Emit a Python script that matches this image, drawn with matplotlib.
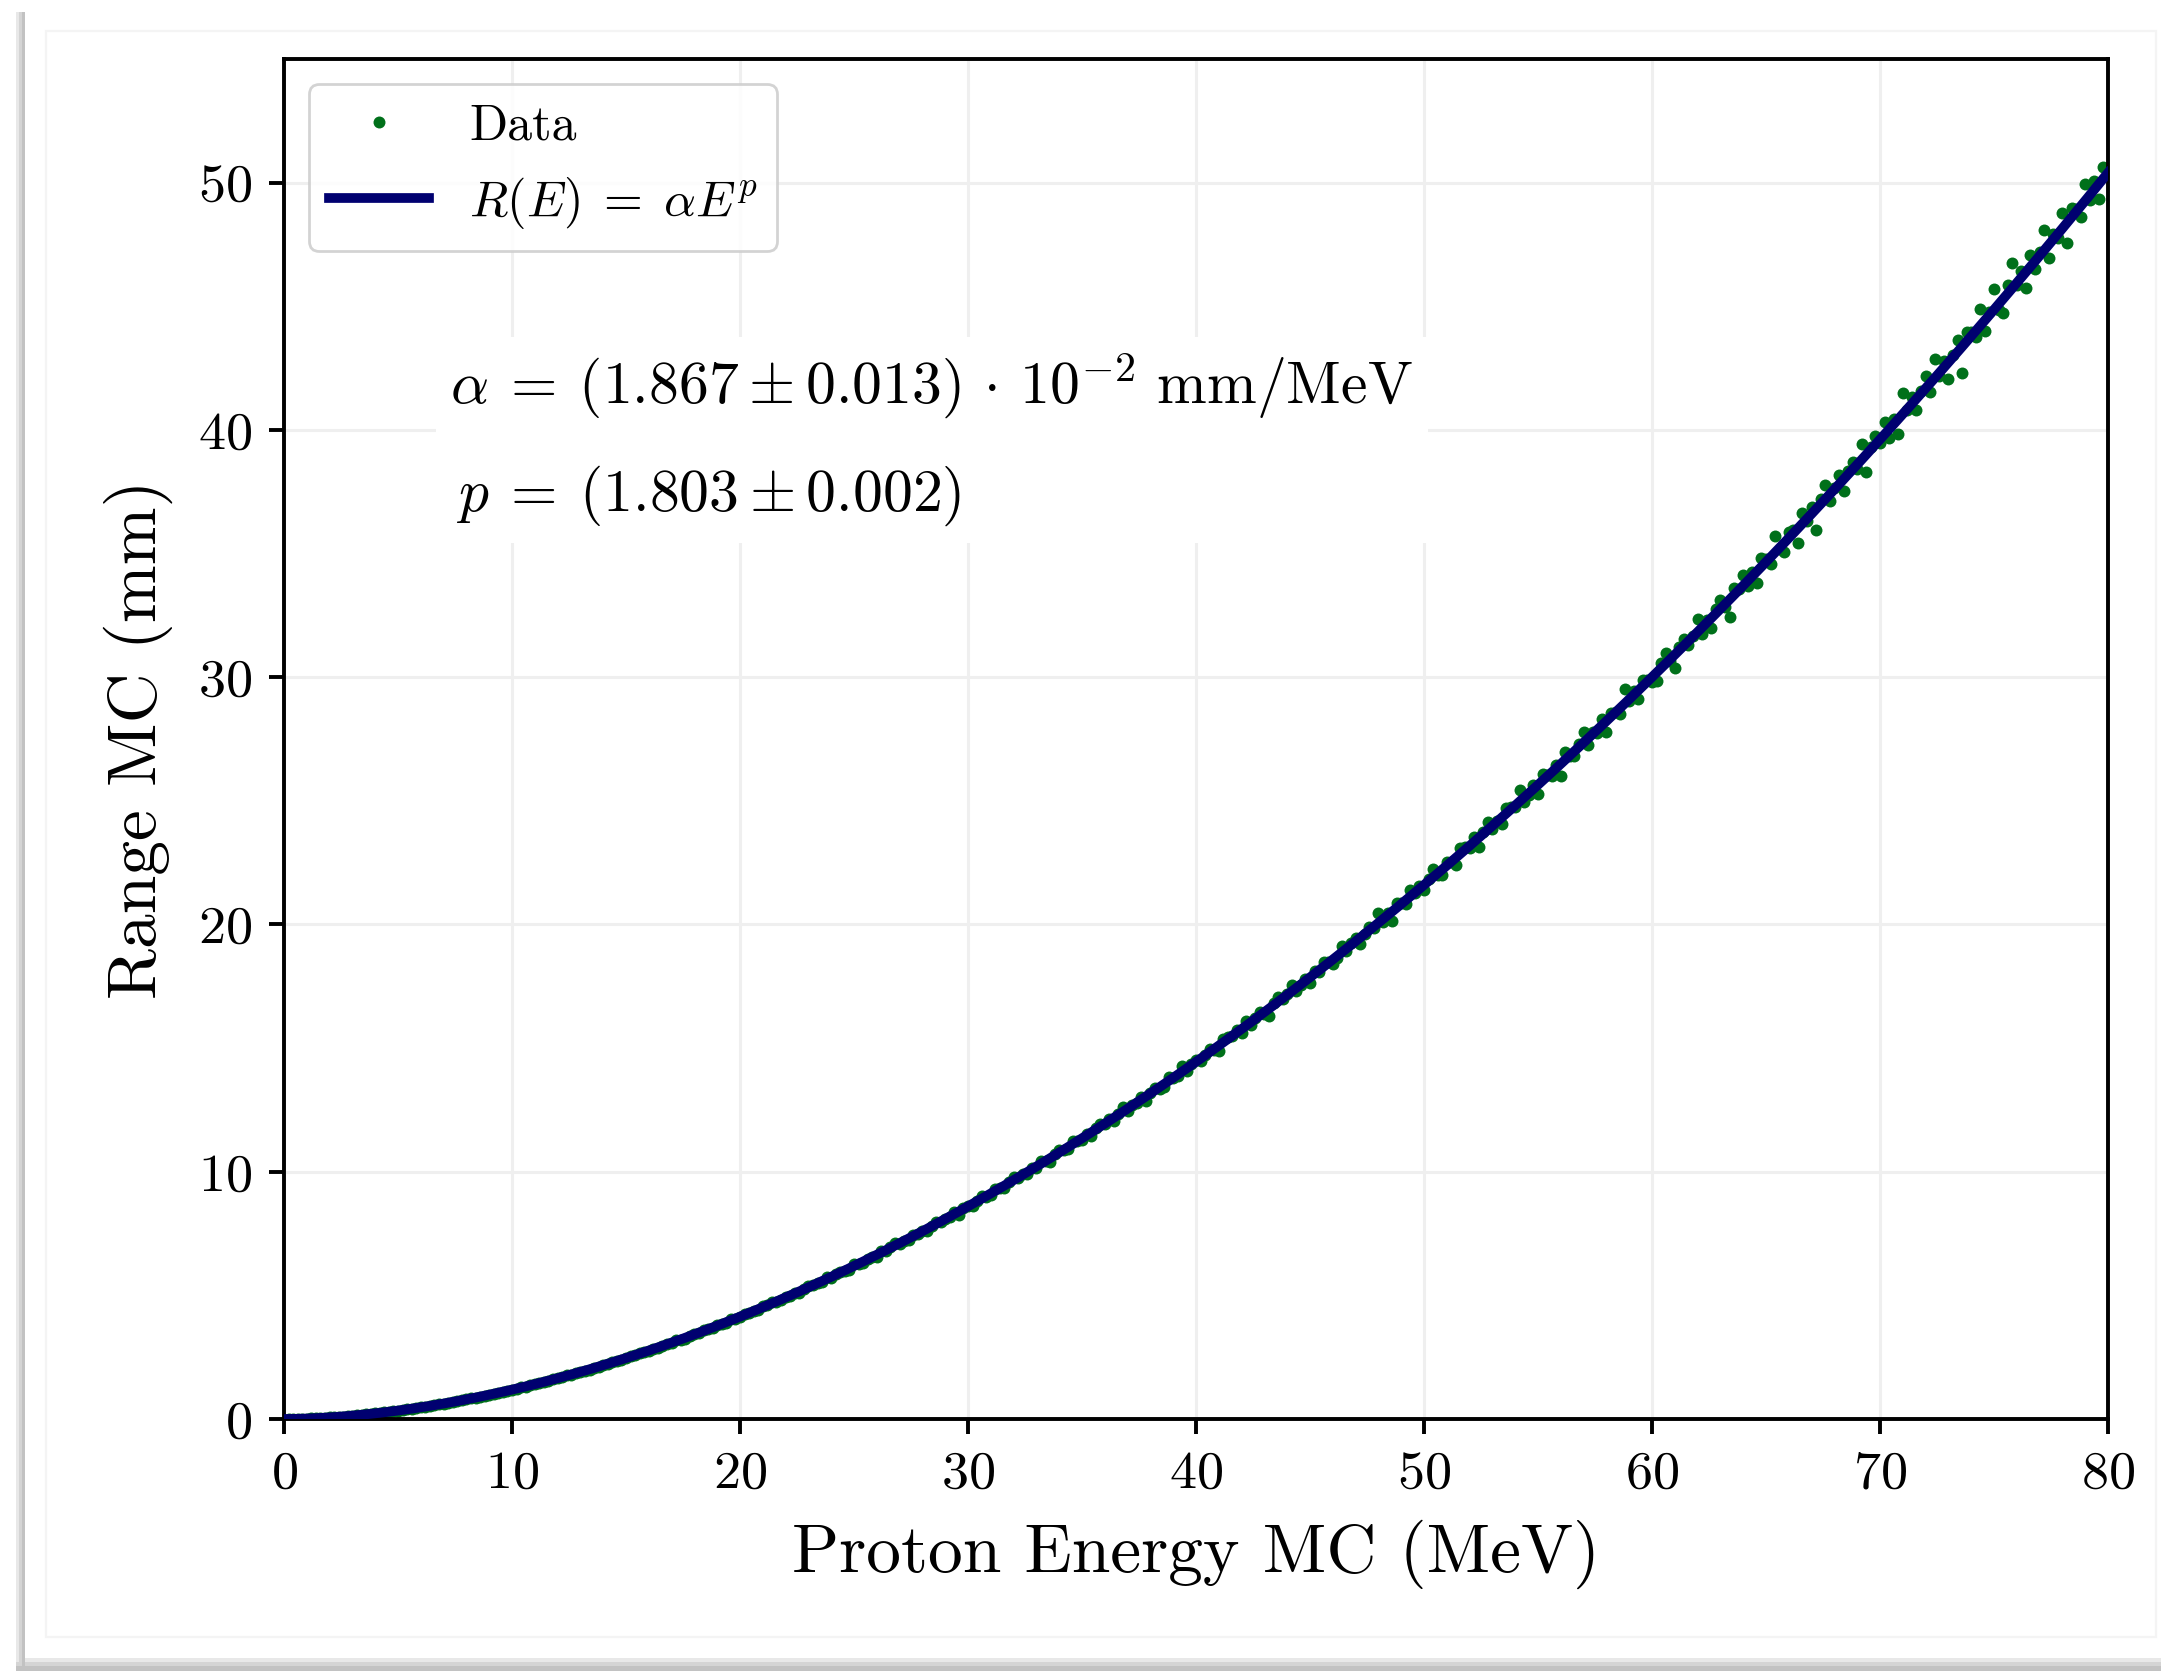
import matplotlib

matplotlib.use("Agg")

import matplotlib.pyplot as plt
from matplotlib.patches import Rectangle
import numpy as np

# fit result printed on the chart
ALPHA = 1.867e-2
P_EXP = 1.803

# MC points: proton energy (MeV) and range (mm)
ENERGY_MEV = [
    0.2, 0.4, 0.6, 0.8, 1.0, 1.2, 1.4, 1.6, 1.8, 2.0, 2.2, 2.4, 2.6, 2.8, 3.0, 3.2, 3.4, 3.6, 3.8, 4.0,
    4.2, 4.4, 4.6, 4.8, 5.0, 5.2, 5.4, 5.6, 5.8, 6.0, 6.2, 6.4, 6.6, 6.8, 7.0, 7.2, 7.4, 7.6, 7.8, 8.0,
    8.2, 8.4, 8.6, 8.8, 9.0, 9.2, 9.4, 9.6, 9.8, 10.0, 10.2, 10.4, 10.6, 10.8, 11.0, 11.2, 11.4, 11.6, 11.8, 12.0,
    12.2, 12.4, 12.6, 12.8, 13.0, 13.2, 13.4, 13.6, 13.8, 14.0, 14.2, 14.4, 14.6, 14.8, 15.0, 15.2, 15.4, 15.6, 15.8, 16.0,
    16.2, 16.4, 16.6, 16.8, 17.0, 17.2, 17.4, 17.6, 17.8, 18.0, 18.2, 18.4, 18.6, 18.8, 19.0, 19.2, 19.4, 19.6, 19.8, 20.0,
    20.2, 20.4, 20.6, 20.8, 21.0, 21.2, 21.4, 21.6, 21.8, 22.0, 22.2, 22.4, 22.6, 22.8, 23.0, 23.2, 23.4, 23.6, 23.8, 24.0,
    24.2, 24.4, 24.6, 24.8, 25.0, 25.2, 25.4, 25.6, 25.8, 26.0, 26.2, 26.4, 26.6, 26.8, 27.0, 27.2, 27.4, 27.6, 27.8, 28.0,
    28.2, 28.4, 28.6, 28.8, 29.0, 29.2, 29.4, 29.6, 29.8, 30.0, 30.2, 30.4, 30.6, 30.8, 31.0, 31.2, 31.4, 31.6, 31.8, 32.0,
    32.2, 32.4, 32.6, 32.8, 33.0, 33.2, 33.4, 33.6, 33.8, 34.0, 34.2, 34.4, 34.6, 34.8, 35.0, 35.2, 35.4, 35.6, 35.8, 36.0,
    36.2, 36.4, 36.6, 36.8, 37.0, 37.2, 37.4, 37.6, 37.8, 38.0, 38.2, 38.4, 38.6, 38.8, 39.0, 39.2, 39.4, 39.6, 39.8, 40.0,
    40.2, 40.4, 40.6, 40.8, 41.0, 41.2, 41.4, 41.6, 41.8, 42.0, 42.2, 42.4, 42.6, 42.8, 43.0, 43.2, 43.4, 43.6, 43.8, 44.0,
    44.2, 44.4, 44.6, 44.8, 45.0, 45.2, 45.4, 45.6, 45.8, 46.0, 46.2, 46.4, 46.6, 46.8, 47.0, 47.2, 47.4, 47.6, 47.8, 48.0,
    48.2, 48.4, 48.6, 48.8, 49.0, 49.2, 49.4, 49.6, 49.8, 50.0, 50.2, 50.4, 50.6, 50.8, 51.0, 51.2, 51.4, 51.6, 51.8, 52.0,
    52.2, 52.4, 52.6, 52.8, 53.0, 53.2, 53.4, 53.6, 53.8, 54.0, 54.2, 54.4, 54.6, 54.8, 55.0, 55.2, 55.4, 55.6, 55.8, 56.0,
    56.2, 56.4, 56.6, 56.8, 57.0, 57.2, 57.4, 57.6, 57.8, 58.0, 58.2, 58.4, 58.6, 58.8, 59.0, 59.2, 59.4, 59.6, 59.8, 60.0,
    60.2, 60.4, 60.6, 60.8, 61.0, 61.2, 61.4, 61.6, 61.8, 62.0, 62.2, 62.4, 62.6, 62.8, 63.0, 63.2, 63.4, 63.6, 63.8, 64.0,
    64.2, 64.4, 64.6, 64.8, 65.0, 65.2, 65.4, 65.6, 65.8, 66.0, 66.2, 66.4, 66.6, 66.8, 67.0, 67.2, 67.4, 67.6, 67.8, 68.0,
    68.2, 68.4, 68.6, 68.8, 69.0, 69.2, 69.4, 69.6, 69.8, 70.0, 70.2, 70.4, 70.6, 70.8, 71.0, 71.2, 71.4, 71.6, 71.8, 72.0,
    72.2, 72.4, 72.6, 72.8, 73.0, 73.2, 73.4, 73.6, 73.8, 74.0, 74.2, 74.4, 74.6, 74.8, 75.0, 75.2, 75.4, 75.6, 75.8, 76.0,
    76.2, 76.4, 76.6, 76.8, 77.0, 77.2, 77.4, 77.6, 77.8, 78.0, 78.2, 78.4, 78.6, 78.8, 79.0, 79.2, 79.4, 79.6, 79.8, 80.0,
]
RANGE_MM = [
    0.00, 0.00, 0.01, 0.01, 0.02, 0.03, 0.03, 0.04, 0.05, 0.07, 0.08, 0.09, 0.10, 0.12, 0.14, 0.15, 0.17, 0.19, 0.21, 0.23,
    0.25, 0.27, 0.29, 0.31, 0.34, 0.37, 0.39, 0.41, 0.45, 0.47, 0.50, 0.53, 0.57, 0.59, 0.62, 0.66, 0.68, 0.73, 0.76, 0.79,
    0.84, 0.86, 0.90, 0.95, 0.98, 1.01, 1.07, 1.11, 1.14, 1.18, 1.23, 1.29, 1.31, 1.36, 1.42, 1.45, 1.51, 1.53, 1.61, 1.65,
    1.69, 1.76, 1.78, 1.85, 1.92, 1.95, 2.00, 2.07, 2.12, 2.19, 2.21, 2.30, 2.36, 2.40, 2.46, 2.56, 2.57, 2.65, 2.72, 2.75,
    2.84, 2.87, 2.96, 3.04, 3.08, 3.18, 3.20, 3.24, 3.37, 3.43, 3.48, 3.60, 3.64, 3.68, 3.79, 3.84, 3.88, 4.05, 4.06, 4.12,
    4.25, 4.28, 4.37, 4.39, 4.55, 4.60, 4.73, 4.73, 4.83, 4.93, 4.96, 5.11, 5.09, 5.26, 5.37, 5.40, 5.52, 5.55, 5.73, 5.70,
    5.85, 5.96, 5.99, 6.04, 6.27, 6.28, 6.32, 6.49, 6.57, 6.56, 6.79, 6.81, 6.95, 7.13, 7.07, 7.21, 7.24, 7.45, 7.47, 7.61,
    7.61, 7.82, 7.96, 7.95, 8.10, 8.17, 8.37, 8.27, 8.55, 8.62, 8.63, 8.82, 9.02, 8.98, 9.07, 9.30, 9.33, 9.35, 9.60, 9.79,
    9.75, 9.91, 9.90, 10.17, 10.17, 10.44, 10.44, 10.38, 10.71, 10.87, 10.86, 10.93, 11.26, 11.26, 11.30, 11.54, 11.45, 11.75, 11.92, 11.93,
    12.12, 12.06, 12.33, 12.61, 12.47, 12.71, 12.77, 13.03, 12.87, 13.18, 13.39, 13.36, 13.44, 13.84, 13.80, 13.86, 14.29, 14.06, 14.36, 14.53,
    14.47, 14.73, 14.98, 14.92, 14.87, 15.36, 15.43, 15.49, 15.73, 15.60, 16.11, 15.95, 16.21, 16.46, 16.39, 16.31, 16.82, 17.06, 16.98, 17.20,
    17.57, 17.29, 17.57, 17.81, 17.65, 18.13, 18.09, 18.47, 18.47, 18.41, 18.65, 19.14, 18.91, 19.23, 19.47, 19.19, 19.63, 19.88, 19.87, 20.45,
    20.11, 20.45, 20.15, 20.86, 20.87, 20.83, 21.39, 21.26, 21.57, 21.38, 21.82, 22.24, 21.98, 22.02, 22.54, 22.54, 22.40, 23.11, 23.13, 23.11,
    23.53, 23.13, 23.73, 24.14, 23.87, 24.18, 24.05, 24.70, 24.74, 24.76, 25.43, 24.94, 25.23, 25.63, 25.29, 26.07, 26.04, 26.00, 26.45, 25.99,
    26.98, 26.83, 26.82, 27.29, 27.79, 27.25, 27.78, 27.76, 28.30, 27.80, 28.57, 28.60, 28.52, 29.51, 29.02, 29.43, 29.11, 29.88, 29.88, 29.82,
    29.85, 30.58, 30.97, 30.67, 30.38, 31.22, 31.56, 31.30, 31.68, 32.37, 31.73, 32.30, 31.97, 32.77, 33.12, 32.82, 32.44, 33.59, 33.58, 34.14,
    33.69, 34.26, 33.80, 34.81, 34.76, 34.57, 35.71, 35.17, 35.08, 35.88, 35.97, 35.44, 36.65, 36.30, 36.90, 35.96, 37.22, 37.76, 37.14, 37.64,
    38.17, 37.54, 38.35, 38.71, 38.41, 39.42, 38.30, 39.29, 39.77, 39.46, 40.34, 39.66, 40.43, 39.83, 41.49, 40.81, 41.34, 40.81, 41.59, 42.18,
    41.55, 42.85, 42.18, 42.77, 42.04, 43.03, 43.63, 42.32, 43.97, 43.96, 43.74, 44.88, 43.99, 44.78, 45.71, 44.85, 44.71, 45.88, 46.73, 45.85,
    46.44, 45.73, 47.07, 46.49, 47.18, 48.07, 46.96, 47.94, 47.78, 48.78, 47.55, 48.98, 48.92, 48.60, 49.96, 49.30, 50.07, 49.35, 50.62, 50.60,
]

X_TICKS = [0, 10, 20, 30, 40, 50, 60, 70, 80]
Y_TICKS = [0, 10, 20, 30, 40, 50]

W_PX, H_PX = 2161, 1671
DPI = 200
DATA_COLOR = "#00701a"
FIT_COLOR = "#000070"

plt.rcParams.update({
    "font.family": "serif",
    "font.serif": ["cmr10"],
    "mathtext.fontset": "cm",
    "axes.formatter.use_mathtext": True,
    "axes.unicode_minus": False,
})


def px_rect(x0, y0, x1, y1, **kw):
    # rectangle given in image pixels (origin top-left)
    return Rectangle((x0 / W_PX, 1 - y1 / H_PX), (x1 - x0) / W_PX, (y1 - y0) / H_PX,
                     transform=fig.transFigure, **kw)


fig = plt.figure(figsize=(W_PX / DPI, H_PX / DPI), dpi=DPI)

# screenshot-style drop shadow around the panel
for i, c in enumerate(["#e8e8e8", "#d4d4d4", "#c2c2c2"]):
    fig.patches.append(px_rect(16 + 3 * i, 12, 25, H_PX, color=c, lw=0, zorder=0))
    fig.patches.append(px_rect(16, 1658 + 4 * i, W_PX, H_PX, color=c, lw=0, zorder=0))
fig.patches.append(px_rect(46, 31, 2156, 1637, fill=False, ec="#f4f4f4", lw=0.8, zorder=0))

ax = fig.add_axes([284 / W_PX, 1 - 1419 / H_PX, (2108 - 284) / W_PX, (1419 - 59) / H_PX])

ax.plot(ENERGY_MEV, RANGE_MM, "o", ms=4.3, color=DATA_COLOR, mew=0, label="Data", zorder=2)
e_fit = np.linspace(0, 80, 800)
ax.plot(e_fit, ALPHA * e_fit ** P_EXP, color=FIT_COLOR, lw=3.5,
        label=r"$R(E)\;=\;\alpha E^p$", zorder=3)

ax.set_xlim(0, 80)
ax.set_ylim(0, 55)
ax.set_xticks(X_TICKS)
ax.set_yticks(Y_TICKS)
ax.grid(color="#efefef", lw=1.1)
ax.set_axisbelow(True)
for s in ax.spines.values():
    s.set_linewidth(1.4)
ax.tick_params(labelsize=19.5, width=1.4, length=5.5, pad=6)
ax.set_xlabel("Proton Energy MC (MeV)", fontsize=25, labelpad=8)
ax.set_ylabel("Range MC (mm)", fontsize=25, labelpad=9)

ax.legend(loc="upper left", fontsize=18, framealpha=0.85, edgecolor="0.8")

ax.text(7.3, 39.6,
        r"$\alpha\:=\:(1.867 \pm 0.013)\,\cdot\,10^{-2}\ \mathrm{mm/MeV}$" + "\n"
        + r"$\,p\:=\:(1.803 \pm 0.002)$",
        fontsize=21.5, ha="left", va="center", linespacing=1.9,
        bbox=dict(boxstyle="square,pad=0.25", fc="white", ec="none"), zorder=4)

fig.savefig("out.png", dpi=DPI)
